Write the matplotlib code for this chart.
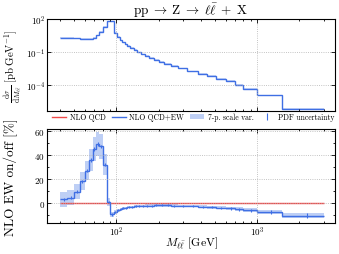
import matplotlib
matplotlib.use('Agg')
import matplotlib.pyplot as plt
from matplotlib.ticker import AutoMinorLocator, NullLocator
import numpy as np

plt.rcParams['font.family'] = 'serif'
plt.rcParams['font.serif'] = ['cmr10', 'DejaVu Serif']
plt.rcParams['mathtext.fontset'] = 'cm'
plt.rcParams['axes.formatter.use_mathtext'] = True
plt.rcParams['axes.unicode_minus'] = False

# bin edges in M_ll (GeV)
edges = [40, 45, 50, 55, 60, 64, 68, 72, 76, 81, 86, 91, 96, 101, 106, 110, 115,
         120, 126, 133, 141, 150, 160, 171, 185, 200, 220, 243, 273, 320, 380,
         440, 510, 600, 700, 800, 1000, 1500, 3000]

# log10 of dsigma/dM [pb/GeV], NLO QCD+EW
log_xsec = [0.30, 0.27, 0.22, 0.18, 0.17, 0.20, 0.30, 0.50, 0.80, 1.25, 1.78, 1.78,
            0.70, 0.35, 0.05, -0.15, -0.32, -0.48, -0.65, -0.85, -1.05, -1.22,
            -1.38, -1.55, -1.72, -1.90, -2.08, -2.28, -2.52, -2.78, -3.02, -3.22,
            -3.45, -3.65, -4.00, -4.40, -4.96, -6.18]

# NLO EW on/off [%]
ratio = [3, 4.5, 9.5, 18, 27, 36, 45, 49, 47, 32, 0.8, -9.5, -7.5, -6, -5, -4.4,
         -3.9, -3.5, -3.1, -2.8, -2.6, -2.4, -2.2, -2.1, -2.0, -2.0, -2.0, -2.1,
         -2.3, -2.6, -3.0, -3.4, -3.9, -4.5, -5.2, -5.9, -7.2, -10.4]

# half width of 7-point scale band [%]
scale_err = [6, 6, 6.5, 7.5, 8, 9, 10, 10, 10, 9, 3, 2, 1.5, 1.3, 1.2, 1.1, 1.0,
             1.0, 1.0, 1.0, 1.0, 1.0, 1.0, 1.0, 1.0, 1.0, 1.0, 1.0, 1.0, 1.0, 1.1,
             1.2, 1.3, 1.4, 1.5, 1.6, 1.8, 2.0]

# PDF uncertainty [%]
pdf_err = [1.5, 1.5, 1.5, 1.5, 1.5, 1.5, 1.5, 1.5, 1.5, 1.5, 1.0, 1.0, 0.8, 0.8,
           0.8, 0.8, 0.8, 0.8, 0.8, 0.8, 0.8, 0.8, 0.8, 0.8, 0.8, 0.8, 0.8, 0.8,
           0.8, 0.8, 0.9, 0.9, 1.0, 1.0, 1.1, 1.2, 1.5, 2.0]

blue = '#3f6fe4'
red = '#f04a4a'
band = '#a9bff2'

edges = np.array(edges)
xsec = 10 ** np.array(log_xsec)
ratio = np.array(ratio)
scale_err = np.array(scale_err)
pdf_err = np.array(pdf_err)
centers = 0.5 * (edges[1:] + edges[:-1])

fig = plt.figure(figsize=(3.39, 2.55), dpi=100)
ax1 = fig.add_axes([0.139, 0.561, 0.849, 0.361])
ax2 = fig.add_axes([0.139, 0.122, 0.849, 0.368], sharex=ax1)

# top panel
ax1.stairs(xsec * 1.15, edges, baseline=xsec * 0.87, fill=True, color=band, alpha=0.6, lw=0)
ax1.stairs(xsec, edges, baseline=None, color=blue, lw=1.0)
ax1.set_xscale('log')
ax1.set_yscale('log')
ax1.set_ylim(4e-7, 1e2)
ax1.set_yticks([1e-4, 1e-1, 1e2])
ax1.yaxis.set_minor_locator(NullLocator())
ax1.set_title(r'$\mathrm{pp}\;\to\;\mathrm{Z}\;\to\;\ell\bar{\ell}\;+\;\mathrm{X}$', fontsize=9.5, pad=2)
ax1.set_ylabel(r'$\frac{\mathrm{d}\sigma}{\mathrm{d}M_{\ell\bar{\ell}}}\ [\mathrm{pb\,GeV}^{-1}]$', fontsize=7.8)
ax1.tick_params(labelbottom=False)

# bottom panel
ax2.stairs(ratio + scale_err, edges, baseline=ratio - scale_err, fill=True,
           color=band, alpha=0.75, lw=0, label='7-p. scale var.')
ax2.stairs(np.zeros_like(ratio), edges, baseline=None, color=red, lw=1.0, label='NLO QCD')
ax2.stairs(ratio, edges, baseline=None, color=blue, lw=1.0, label='NLO QCD+EW')
ax2.errorbar(centers, ratio, yerr=pdf_err, fmt='none', ecolor=blue, elinewidth=0.8,
             label='PDF uncertainty')
ax2.set_ylim(-16.5, 61.5)
ax2.set_yticks([0, 20, 40, 60])
ax2.yaxis.set_minor_locator(AutoMinorLocator(2))
ax2.set_xlim(32.3, 3570)
ax2.set_ylabel('NLO EW on/off [%]', fontsize=9.5)
ax2.set_xlabel(r'$M_{\ell\bar{\ell}}\ [\mathrm{GeV}]$', fontsize=8.5)

for ax in (ax1, ax2):
    ax.grid(True, which='major', ls=':', color='#b0b0b0', lw=0.6)
    ax.tick_params(which='both', direction='in', top=True, right=True, labelsize=6.5,
                   width=0.6, pad=1.5)
    ax.tick_params(which='major', length=3)
    ax.tick_params(which='minor', length=1.6)
    for s in ax.spines.values():
        s.set_linewidth(0.8)

ax1.yaxis.set_label_coords(-0.085, 0.5)
ax2.yaxis.set_label_coords(-0.1, 0.5)
ax2.xaxis.set_label_coords(0.5, -0.125)

h, l = ax2.get_legend_handles_labels()
order = [l.index(k) for k in ['NLO QCD', 'NLO QCD+EW', '7-p. scale var.', 'PDF uncertainty']]
fig.legend([h[i] for i in order], [l[i] for i in order], loc='center',
           bbox_to_anchor=(0.57, 0.537), ncol=4, frameon=False, fontsize=5.5,
           handlelength=1.8, columnspacing=0.8, handletextpad=0.5)

fig.savefig('out.png', dpi=100)
